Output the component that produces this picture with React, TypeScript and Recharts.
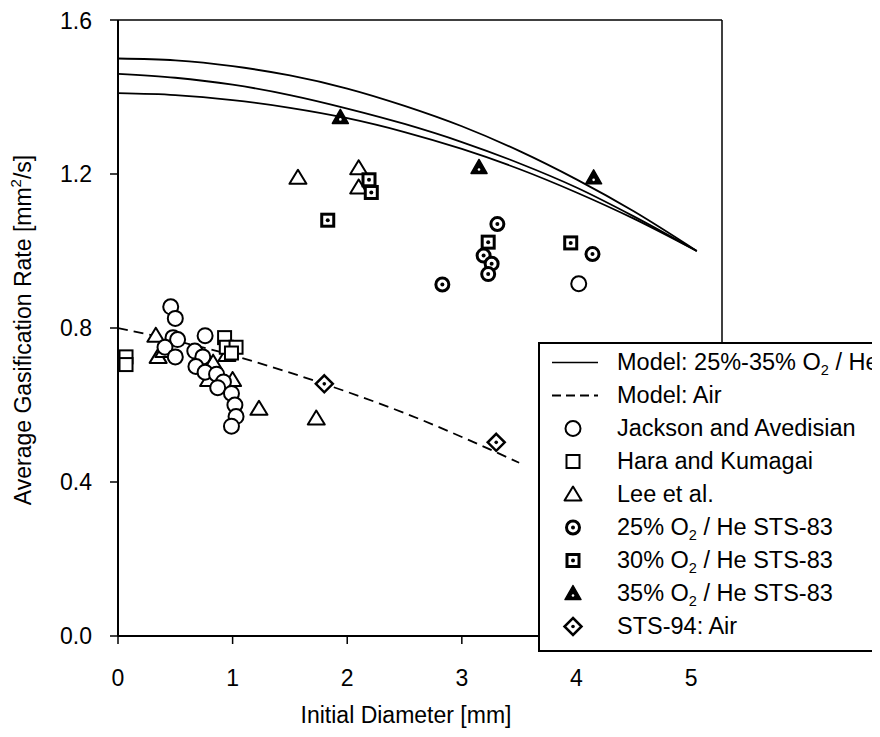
import React from "react";
import {
  ComposedChart,
  Line,
  Scatter,
  XAxis,
  YAxis,
  ReferenceLine,
  Label,
} from "recharts";

const FONT = '"Liberation Sans", Arial, Helvetica, sans-serif';

// Model curves (x = initial diameter, mm)
const modelD = [0, 0.5, 1, 1.5, 2, 2.5, 3, 3.5, 4, 4.5, 5.05];
const modelHigh = [1.5, 1.495, 1.48, 1.456, 1.422, 1.377, 1.324, 1.26, 1.186, 1.103, 1.0];
const modelMid = [1.46, 1.45, 1.432, 1.405, 1.37, 1.33, 1.283, 1.228, 1.165, 1.09, 1.0];
const modelLow = [1.41, 1.405, 1.392, 1.372, 1.345, 1.309, 1.265, 1.213, 1.152, 1.084, 1.0];

const airD = [0, 0.5, 1, 1.5, 2, 2.5, 3, 3.5];
const airV = [0.8, 0.767, 0.729, 0.684, 0.634, 0.579, 0.517, 0.45];

// Measured points [diameter, rate]
const jackson: [number, number][] = [
  [0.46, 0.855], [0.5, 0.825], [0.48, 0.775], [0.52, 0.77], [0.41, 0.75],
  [0.5, 0.725], [0.76, 0.78], [0.67, 0.74], [0.74, 0.725], [0.68, 0.7],
  [0.76, 0.685], [0.86, 0.68], [0.92, 0.66], [0.87, 0.645], [0.99, 0.63],
  [1.02, 0.6], [1.03, 0.57], [0.99, 0.545], [4.02, 0.915],
];
const hara: [number, number][] = [
  [0.07, 0.725], [0.07, 0.705], [0.93, 0.775], [0.945, 0.75], [1.03, 0.75], [0.99, 0.735],
];
const lee: [number, number][] = [
  [0.33, 0.78], [0.35, 0.725], [0.4, 0.74], [0.95, 0.73], [0.83, 0.71],
  [0.79, 0.665], [1.0, 0.665], [1.23, 0.59], [1.73, 0.565],
  [1.57, 1.19], [2.1, 1.215], [2.1, 1.165],
];
const sts83o25: [number, number][] = [
  [2.83, 0.913], [3.19, 0.988], [3.26, 0.967], [3.23, 0.94], [3.31, 1.07], [4.14, 0.992],
];
const sts83o30: [number, number][] = [
  [1.83, 1.08], [2.19, 1.185], [2.21, 1.152], [3.23, 1.023], [3.95, 1.021],
];
const sts83o35: [number, number][] = [
  [1.94, 1.347], [3.15, 1.217], [4.15, 1.19],
];
const sts94: [number, number][] = [
  [1.8, 0.655], [3.3, 0.503],
];

const xTicks = [0, 1, 2, 3, 4, 5];
const yTicks = [0, 0.4, 0.8, 1.2, 1.6];

const toRows = (pts: [number, number][]) => pts.map(([d, v]) => ({ d, v }));
const curve = (xs: number[], ys: number[]) => xs.map((d, i) => ({ d, v: ys[i] }));

// marker shapes
const OpenCircle = ({ cx, cy }: any) => (
  <circle cx={cx} cy={cy} r={7.5} fill="#fff" stroke="#000" strokeWidth={2} />
);
const OpenSquare = ({ cx, cy }: any) => (
  <rect x={cx - 6.5} y={cy - 6.5} width={13} height={13} fill="#fff" stroke="#000" strokeWidth={2} />
);
const OpenTriangle = ({ cx, cy }: any) => (
  <polygon
    points={`${cx},${cy - 8} ${cx - 8.5},${cy + 6} ${cx + 8.5},${cy + 6}`}
    fill="#fff"
    stroke="#000"
    strokeWidth={2}
    strokeLinejoin="round"
  />
);
const DotCircle = ({ cx, cy }: any) => (
  <g>
    <circle cx={cx} cy={cy} r={6.5} fill="#fff" stroke="#000" strokeWidth={3} />
    <circle cx={cx} cy={cy} r={2} fill="#000" />
  </g>
);
const DotSquare = ({ cx, cy }: any) => (
  <g>
    <rect x={cx - 6} y={cy - 6} width={12} height={12} fill="#fff" stroke="#000" strokeWidth={3} />
    <circle cx={cx} cy={cy} r={2} fill="#000" />
  </g>
);
const FilledTriangle = ({ cx, cy }: any) => (
  <g>
    <polygon
      points={`${cx},${cy - 8} ${cx - 8},${cy + 6} ${cx + 8},${cy + 6}`}
      fill="#000"
      stroke="#000"
      strokeWidth={1.5}
      strokeLinejoin="round"
    />
    <circle cx={cx} cy={cy + 2} r={1.3} fill="#fff" />
  </g>
);
const DotDiamond = ({ cx, cy }: any) => (
  <g>
    <polygon
      points={`${cx},${cy - 8.5} ${cx + 8.5},${cy} ${cx},${cy + 8.5} ${cx - 8.5},${cy}`}
      fill="#fff"
      stroke="#000"
      strokeWidth={2.5}
    />
    <circle cx={cx} cy={cy} r={1.8} fill="#000" />
  </g>
);

const O2 = () => (
  <span>
    O<sub style={{ fontSize: "0.62em", verticalAlign: "-0.35em", lineHeight: 0 }}>2</sub>
  </span>
);

const legendRows: { mark: (cx: number, cy: number) => React.ReactNode; text: React.ReactNode }[] = [
  {
    mark: () => <line x1={12} x2={58} y1={16.5} y2={16.5} stroke="#000" strokeWidth={1.5} />,
    text: (
      <>
        Model: 25%-35% <O2 /> / He
      </>
    ),
  },
  {
    mark: () => (
      <line x1={12} x2={58} y1={16.5} y2={16.5} stroke="#000" strokeWidth={1.8} strokeDasharray="9 5" />
    ),
    text: "Model: Air",
  },
  { mark: (cx, cy) => <OpenCircle cx={cx} cy={cy} />, text: "Jackson and Avedisian" },
  { mark: (cx, cy) => <OpenSquare cx={cx} cy={cy} />, text: "Hara and Kumagai" },
  { mark: (cx, cy) => <OpenTriangle cx={cx} cy={cy} />, text: "Lee et al." },
  { mark: (cx, cy) => <DotCircle cx={cx} cy={cy} />, text: (<>25% <O2 /> / He STS-83</>) },
  { mark: (cx, cy) => <DotSquare cx={cx} cy={cy} />, text: (<>30% <O2 /> / He STS-83</>) },
  { mark: (cx, cy) => <FilledTriangle cx={cx} cy={cy} />, text: (<>35% <O2 /> / He STS-83</>) },
  { mark: (cx, cy) => <DotDiamond cx={cx} cy={cy} />, text: "STS-94: Air" },
];

function LegendBox() {
  return (
    <div
      style={{
        position: "absolute",
        left: 530,
        top: 334,
        width: 380,
        height: 310,
        boxSizing: "border-box",
        border: "2px solid #000",
        background: "#fff",
        paddingTop: 2,
        fontFamily: FONT,
        fontSize: 23.5,
        color: "#000",
      }}
    >
      {legendRows.map((r, i) => (
        <div key={i} style={{ display: "flex", alignItems: "center", height: 33, whiteSpace: "nowrap" }}>
          <svg width={77} height={33} style={{ flex: "none" }}>
            {r.mark(33, 16.5)}
          </svg>
          <span>{r.text}</span>
        </div>
      ))}
    </div>
  );
}

export default function App() {
  const tickStyle = { fill: "#000", fontSize: 23, fontFamily: FONT };
  return (
    <div style={{ position: "relative", width: 872, height: 721, overflow: "hidden", fontFamily: FONT }}>
      <ComposedChart
        width={872}
        height={721}
        margin={{ top: 12, right: 158, left: 30, bottom: 0 }}
        style={{ fontFamily: FONT }}
      >
        <XAxis
          type="number"
          dataKey="d"
          domain={[0, 5.27]}
          ticks={xTicks}
          allowDataOverflow
          height={93}
          tick={tickStyle}
          tickSize={8}
          tickMargin={26}
          stroke="#000"
          axisLine={{ stroke: "#000", strokeWidth: 2 }}
          tickLine={{ stroke: "#000", strokeWidth: 1.5 }}
        >
          <Label
            content={() => (
              <text x={398} y={715} textAnchor="middle" fontSize={23} fontFamily={FONT} fill="#000">
                Initial Diameter [mm]
              </text>
            )}
          />
        </XAxis>
        <YAxis
          type="number"
          dataKey="v"
          domain={[0, 1.6]}
          ticks={yTicks}
          allowDataOverflow
          width={80}
          tick={tickStyle}
          tickFormatter={(v: number) => v.toFixed(1)}
          tickSize={8}
          tickMargin={18}
          axisLine={{ stroke: "#000", strokeWidth: 2 }}
          tickLine={{ stroke: "#000", strokeWidth: 1.5 }}
        >
          <Label
            content={() => (
              <text
                x={17}
                y={322}
                transform="rotate(-90 17 322)"
                textAnchor="middle"
                dominantBaseline="middle"
                fontSize={23}
                fontFamily={FONT}
                fill="#000"
              >
                Average Gasification Rate [mm
                <tspan dy={-8} fontSize={15}>2</tspan>
                <tspan dy={8}>/s]</tspan>
              </text>
            )}
          />
        </YAxis>
        <ReferenceLine y={1.6} stroke="#000" strokeWidth={1.5} />
        <ReferenceLine x={5.27} stroke="#000" strokeWidth={1.5} />

        <Line data={curve(modelD, modelHigh)} dataKey="v" type="monotone" stroke="#000" strokeWidth={1.8} dot={false} isAnimationActive={false} />
        <Line data={curve(modelD, modelMid)} dataKey="v" type="monotone" stroke="#000" strokeWidth={1.8} dot={false} isAnimationActive={false} />
        <Line data={curve(modelD, modelLow)} dataKey="v" type="monotone" stroke="#000" strokeWidth={1.8} dot={false} isAnimationActive={false} />
        <Line data={curve(airD, airV)} dataKey="v" type="monotone" stroke="#000" strokeWidth={1.8} strokeDasharray="10 6" dot={false} isAnimationActive={false} />

        <Scatter data={toRows(lee)} dataKey="v" shape={OpenTriangle} isAnimationActive={false} />
        <Scatter data={toRows(hara)} dataKey="v" shape={OpenSquare} isAnimationActive={false} />
        <Scatter data={toRows(jackson)} dataKey="v" shape={OpenCircle} isAnimationActive={false} />
        <Scatter data={toRows(sts83o25)} dataKey="v" shape={DotCircle} isAnimationActive={false} />
        <Scatter data={toRows(sts83o30)} dataKey="v" shape={DotSquare} isAnimationActive={false} />
        <Scatter data={toRows(sts83o35)} dataKey="v" shape={FilledTriangle} isAnimationActive={false} />
        <Scatter data={toRows(sts94)} dataKey="v" shape={DotDiamond} isAnimationActive={false} />
      </ComposedChart>
      <LegendBox />
    </div>
  );
}
